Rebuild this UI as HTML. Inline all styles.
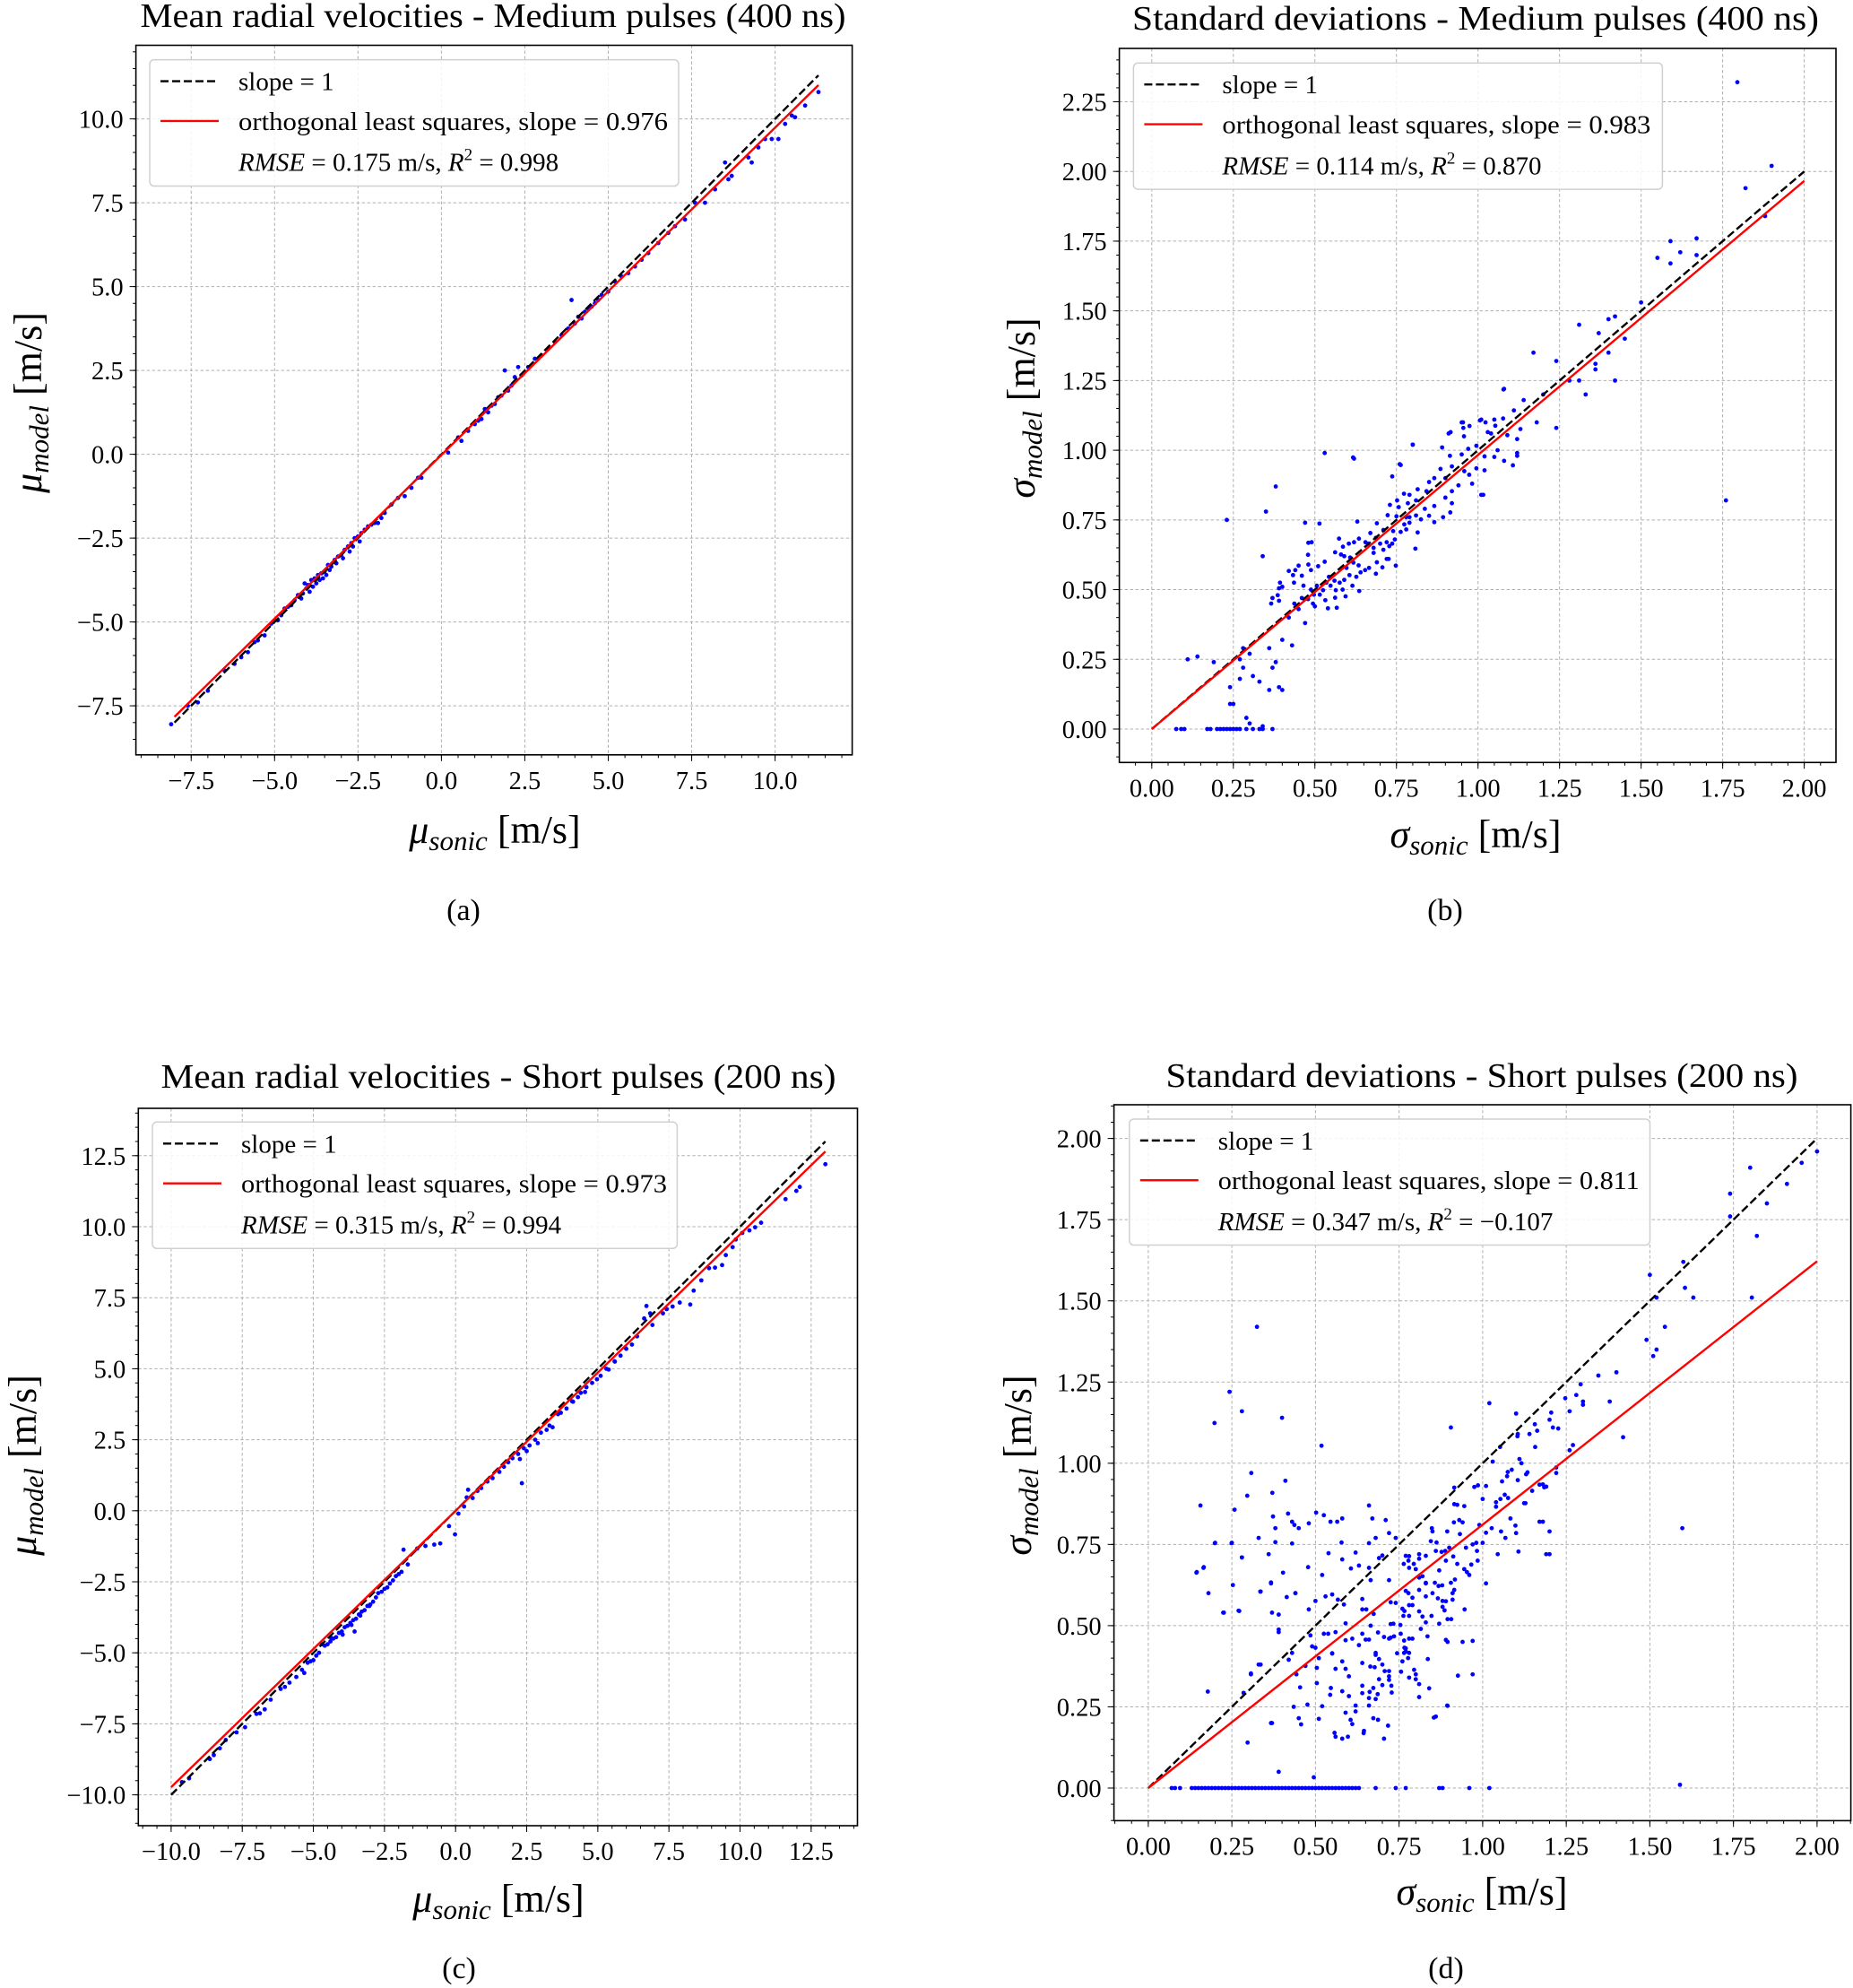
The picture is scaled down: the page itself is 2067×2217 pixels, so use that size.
<!DOCTYPE html>
<html><head><meta charset="utf-8"><title>Velocity comparison scatter plots</title>
<style>
html,body{margin:0;padding:0;background:#fff;}
svg{display:block;font-family:"Liberation Serif","DejaVu Serif",serif;}
</style></head>
<body>
<svg id="fig" xmlns="http://www.w3.org/2000/svg" width="2067" height="2217" viewBox="0 0 2067 2217">
<rect x="0" y="0" width="2067" height="2217" fill="#fff"/>
</svg>
<script>
// ---------- Panel (a) data: mean radial velocities, medium pulses ----------
const aSonic = [-8.1,-7.6,-7.3,-7.0,-6.5,-6.2,-6.0,-5.8,-5.6,-5.5,-5.3,-5.1,-5.0,-4.9,-4.8,-4.7,-4.6,-4.5,-4.4,-4.3,-4.2,-4.15,-4.1,-4.05,-4.0,-3.95,-3.9,-3.85,-3.8,-3.75,-3.7,-3.65,-3.6,-3.55,-3.5,-3.45,-3.4,-3.35,-3.3,-3.2,-3.15,-3.1,-3.0,-2.95,-2.9,-2.8,-2.75,-2.7,-2.65,-2.6,-2.5,-2.45,-2.4,-2.3,-2.2,-2.1,-2.0,-1.9,-1.8,-1.7,-1.5,-1.3,-1.1,-0.9,-0.7,-0.6,0.2,0.5,0.6,0.8,1.0,1.1,1.2,1.3,1.4,1.5,1.6,1.7,1.8,1.9,2.0,2.1,2.2,2.3,2.4,2.6,2.8,3.0,3.2,3.4,3.6,3.8,3.9,4.0,4.1,4.2,4.3,4.4,4.5,4.6,4.7,4.8,5.0,5.2,5.4,5.6,5.8,6.0,6.2,6.5,6.8,7.0,7.3,7.6,7.9,8.2,8.5,8.6,8.7,9.2,9.3,9.5,9.7,9.9,10.1,10.3,10.5,10.6,10.9,11.3];
const aModel = [-8.05,-7.5,-7.4,-7.05,-6.45,-6.25,-6.05,-5.9,-5.6,-5.55,-5.4,-5.05,-4.95,-4.95,-4.8,-4.6,-4.55,-4.5,-4.35,-4.2,-4.3,-4.15,-3.85,-4.0,-3.9,-4.1,-3.75,-3.95,-3.7,-3.85,-3.6,-3.75,-3.55,-3.7,-3.5,-3.6,-3.3,-3.45,-3.35,-3.15,-3.25,-3.05,-3.0,-3.1,-2.85,-2.75,-2.9,-2.65,-2.75,-2.5,-2.45,-2.6,-2.35,-2.25,-2.15,-2.1,-2.05,-2.05,-1.9,-1.75,-1.5,-1.3,-1.25,-1.0,-0.7,-0.7,0.05,0.5,0.4,0.7,0.9,1.0,1.05,1.35,1.25,1.45,1.5,1.7,1.75,2.5,1.9,2.05,2.3,2.6,2.35,2.6,2.85,2.95,3.15,3.35,3.55,3.75,4.6,3.9,4.1,4.05,4.25,4.35,4.4,4.5,4.6,4.75,4.85,5.15,5.3,5.4,5.6,5.8,6.0,6.3,6.6,6.8,7.0,7.5,7.5,7.9,8.7,8.2,8.3,8.85,8.7,9.15,9.4,9.4,9.4,9.85,10.1,10.05,10.4,10.8];
const aFitSlope = 0.976, aFitIntercept = -0.02, aRange = [-8.0, 11.3];
const aTicks = [-7.5,-5.0,-2.5,0.0,2.5,5.0,7.5,10.0];
const aTickLabels = ["\u22127.5","\u22125.0","\u22122.5","0.0","2.5","5.0","7.5","10.0"];

// ---------- Panel (b) data: standard deviations, medium pulses ----------
const bSonic = [1.795,1.82,1.90,1.88,1.76,1.59,1.55,1.59,1.62,1.67,1.67,1.50,1.45,1.42,1.40,1.42,1.40,1.36,1.36,1.37,1.33,1.31,1.31,1.28,1.17,1.24,1.24,1.20,1.18,1.12,1.08,1.12,1.05,1.01,1.01,0.95,0.91,0.80,0.76,0.53,0.62,0.38,0.35,0.23,0.34,0.47,0.11,0.14,0.19,0.28,
0.075,0.09,0.10,0.17,0.18,0.20,0.21,0.22,0.23,0.24,0.25,0.26,0.27,0.29,0.31,0.33,0.34,0.37,
0.24,0.25,0.24,0.27,0.29,0.30,0.31,0.28,0.33,0.34,0.36,0.37,0.39,0.40,0.27,0.30,0.36,0.38,0.40,0.42,0.43,0.39,0.40,0.44,0.46,0.48,0.49,0.45,0.47,
1.078,1.14,1.11,0.954,0.974,1.006,1.023,0.955,1.077,1.053,1.13,0.916,0.957,1.03,1.04,1.09,0.80,0.89,0.97,0.995,0.617,0.763,0.914,0.95,1.02,1.05,1.06,1.12,1.08,1.107,0.995,1.02,0.92,0.885,0.958,0.973,0.9,0.866,0.85,0.737,0.982,0.94,0.92,0.9,0.842,0.815,0.79,0.773,0.752,0.73,0.757,0.785,0.81,0.837,0.866,0.85,0.866,0.893,0.915,0.92,1.016,0.723,0.75,0.78,0.79,0.81,0.825,0.79,0.774,0.78,0.763,0.74,0.815,0.514,0.63,0.69,0.67,0.71,0.687,0.745,0.737,0.808,0.574,0.635,0.62,0.604,0.586,0.655,0.663,0.68,0.70,0.72,0.728,0.71,0.68,0.72,0.726,0.69,0.687,0.707,0.748,0.666,0.654,0.634,0.618,0.608,0.59,0.58,0.562,0.597,0.64,0.627,0.606,0.59,0.576,0.56,0.543,0.535,0.548,0.564,0.585,0.594,0.615,0.636,0.562,0.532,0.515,0.525,0.506,0.488,0.497,0.479,0.494,0.5,0.465,0.51,0.53,0.488,0.479,0.48,0.45,0.433,0.42,0.436,0.393,0.39,0.386,0.37,0.366,0.437,0.46,0.54,0.567];
const bModel = [2.32,1.94,2.02,1.84,0.82,1.75,1.69,1.67,1.71,1.76,1.70,1.53,1.40,1.48,1.47,1.25,1.35,1.31,1.29,1.42,1.20,1.45,1.25,1.25,1.35,1.32,1.08,1.20,1.10,1.04,1.22,0.99,1.11,1.11,0.84,1.10,1.06,1.02,0.95,0.99,0.97,0.87,0.78,0.75,0.62,0.74,0.25,0.26,0.24,0.29,
0,0,0,0,0,0,0,0,0,0,0,0,0,0,0,0,0,0,
0.09,0.09,0.15,0.18,0.04,0.02,0.19,0.22,0.17,0.01,0.14,0.22,0.15,0.14,0.25,0.27,0.29,0.24,0.32,0.40,0.30,0.46,0.51,0.57,0.55,0.59,0.67,0.43,0.38,
1.218,1.18,1.143,1.10,1.087,1.107,1.10,1.08,1.114,1.088,1.076,1.065,1.05,1.065,1.06,1.054,1.02,1.01,1.005,1.016,0.974,0.947,0.98,0.985,0.978,0.976,1.0,0.98,0.962,0.946,0.935,0.928,0.942,0.933,0.925,0.912,0.90,0.90,0.886,0.906,0.88,0.874,0.853,0.83,0.853,0.86,0.84,0.844,0.82,0.804,0.796,0.81,0.82,0.79,0.80,0.765,0.742,0.76,0.777,0.81,0.84,0.767,0.763,0.76,0.76,0.766,0.752,0.74,0.734,0.716,0.707,0.71,0.705,0.737,0.744,0.738,0.703,0.714,0.686,0.68,0.665,0.647,0.683,0.683,0.67,0.665,0.654,0.67,0.665,0.65,0.665,0.67,0.656,0.643,0.632,0.61,0.61,0.598,0.557,0.58,0.586,0.578,0.57,0.587,0.597,0.615,0.62,0.626,0.634,0.578,0.562,0.546,0.552,0.535,0.525,0.532,0.546,0.525,0.514,0.498,0.50,0.476,0.514,0.495,0.471,0.462,0.482,0.498,0.514,0.50,0.482,0.466,0.45,0.44,0.514,0.584,0.60,0.57,0.625,0.668,0.586,0.552,0.567,0.525,0.525,0.505,0.48,0.47,0.45,0.45,0.47,0.433,0.435];
const bFitSlope = 0.983, bFitIntercept = 0.0, bRange = [0.0, 2.0];
const bXTicks = [0,0.25,0.5,0.75,1.0,1.25,1.5,1.75,2.0];
const bXTickLabels = ["0.00","0.25","0.50","0.75","1.00","1.25","1.50","1.75","2.00"];
const bYTicks = [0,0.25,0.5,0.75,1.0,1.25,1.5,1.75,2.0,2.25];
const bYTickLabels = ["0.00","0.25","0.50","0.75","1.00","1.25","1.50","1.75","2.00","2.25"];

// ---------- Panel (c) data: mean radial velocities, short pulses ----------
const cSonic = [13.0,12.1,11.98,11.6,10.74,10.53,10.33,10.08,9.85,9.74,9.5,9.37,9.12,8.91,8.64,8.37,8.25,7.88,7.63,7.42,7.29,6.71,6.84,6.63,6.92,6.38,5.96,5.80,5.59,5.38,4.97,4.55,4.13,3.41,2.89,2.33,2.26,1.85,1.54,1.12,0.77,0.39,0.44,-0.02,-0.23,-0.54,-0.75,-1.06,-1.35,-1.83,-1.68,-2.0,-2.31,-2.72,-3.03,-3.35,-3.66,-3.55,-3.97,-4.38,-4.70,-5.0,-5.32,-5.84,-6.15,-6.71,-6.88,-7.40,-8.08,-8.29,-8.64,-9.37,-9.62,
6.2,6.0,5.6,5.3,5.1,4.8,4.6,4.4,4.3,4.1,3.9,3.7,3.6,3.3,3.2,3.0,2.8,2.6,2.5,2.4,2.2,2.0,1.7,1.3,0.9,0.6,0.3,0.1,
-1.9,-2.1,-2.2,-2.4,-2.5,-2.6,-2.8,-2.9,-3.0,-3.1,-3.2,-3.3,-3.4,-3.5,-3.6,-3.7,-3.8,-3.9,-4.0,-4.1,-4.2,-4.3,-4.4,-4.5,-4.6,-4.8,-4.9,-5.1,-5.2,-5.4,-5.6,-6.0,-6.5,-7.0,-7.7,-8.5];
const cModel = [12.2,11.4,11.26,10.97,10.14,9.98,9.87,9.78,9.55,9.28,9.0,8.65,8.56,8.54,8.11,7.75,7.26,7.33,7.19,7.10,6.95,7.21,6.95,6.77,6.54,6.14,5.75,5.46,5.26,4.97,4.63,4.18,3.84,2.94,2.38,0.97,1.82,1.71,1.37,1.03,0.70,0.47,0.74,-0.83,-0.54,-1.15,-1.19,-1.24,-1.33,-1.37,-1.89,-2.23,-2.56,-2.90,-3.35,-3.69,-4.02,-4.25,-4.36,-4.47,-4.70,-5.26,-5.71,-6.05,-6.27,-6.99,-7.13,-7.62,-8.07,-8.36,-8.74,-9.42,-9.55,
5.85,5.7,5.25,5.0,4.75,4.5,4.35,4.15,4.0,3.85,3.6,3.45,3.4,3.0,2.85,2.75,2.5,2.3,2.1,2.2,2.0,1.85,1.55,1.15,0.8,0.45,0.15,-0.1,
-2.15,-2.3,-2.45,-2.7,-2.75,-2.85,-3.05,-3.2,-3.3,-3.35,-3.5,-3.55,-3.65,-3.8,-3.85,-3.95,-4.05,-4.1,-4.25,-4.3,-4.45,-4.5,-4.6,-4.7,-4.75,-5.0,-5.1,-5.3,-5.35,-5.6,-5.85,-6.2,-6.65,-7.15,-7.8,-8.6];
const cFitSlope = 0.973, cFitIntercept = 0.0, cRange = [-10.0, 13.0];
const cTicks = [-10,-7.5,-5,-2.5,0,2.5,5,7.5,10,12.5];
const cTickLabels = ["\u221210.0","\u22127.5","\u22125.0","\u22122.5","0.0","2.5","5.0","7.5","10.0","12.5"];

// ---------- Panel (d) data: standard deviations, short pulses ----------
const dSonic = [
0.243,0.28,0.198,0.40,0.518,0.308,0.41,0.156,0.296,0.371,
0.258,0.418,0.43,0.437,0.45,0.38,0.373,0.48,0.502,0.525,
0.545,0.565,0.58,0.66,0.67,0.71,0.33,0.38,0.43,0.199,
0.249,0.578,0.66,0.36,0.28,0.539,0.62,0.58,0.144,0.165,
0.403,0.478,0.606,0.63,0.66,0.69,0.70,0.68,0.72,0.74,
0.253,0.367,0.18,0.335,0.414,0.44,0.52,0.665,0.72,0.224,
0.27,0.39,0.39,0.48,0.50,0.53,0.55,0.567,0.585,0.59,
0.64,0.64,0.652,0.674,0.665,0.538,0.525,0.56,0.59,0.61,
0.63,0.64,0.65,0.66,0.687,0.705,0.72,0.725,0.735,0.725,
0.733,0.74,0.725,0.485,0.49,0.5,0.51,0.55,0.55,0.504,
0.47,0.443,0.43,0.42,0.33,0.307,0.285,0.178,0.37,0.435,
0.45,0.457,0.476,0.454,0.504,0.51,0.52,0.546,0.544,0.557,
0.56,0.58,0.59,0.6,0.58,0.6,0.62,0.62,0.59,0.605,
0.61,0.64,0.64,0.64,0.662,0.66,0.66,0.673,0.68,0.686,
0.69,0.68,0.68,0.664,0.677,0.70,0.69,0.70,0.707,0.72,
0.72,0.72,0.727,0.728,0.717,0.673,0.687,0.645,0.644,0.56,
0.58,0.597,0.705,0.744,0.755,0.763,0.765,0.76,0.756,0.765,
0.77,0.777,0.78,0.78,0.79,0.795,0.8,0.8,0.81,0.81,
0.766,0.77,0.78,0.766,0.78,0.78,0.79,0.79,0.778,0.77,
0.76,0.754,0.81,0.82,0.815,0.83,0.835,0.836,0.84,0.854,
0.895,0.926,0.895,0.847,0.87,0.895,0.906,0.946,0.97,0.81,
0.83,0.83,0.85,0.866,0.88,0.89,0.88,0.886,0.91,0.91,
0.915,0.917,0.905,0.879,0.868,0.857,0.83,0.82,0.81,0.8,
0.78,0.778,0.764,0.77,0.78,0.794,0.81,0.81,0.83,0.845,
0.848,0.85,0.86,0.862,0.87,0.877,0.888,0.89,0.894,0.9,
0.912,0.915,0.915,0.924,0.914,0.924,0.93,0.932,0.945,0.94,
0.945,0.953,0.96,0.95,0.97,0.966,0.975,0.981,0.985,0.99,
0.983,0.986,1.0,1.0,1.01,1.01,1.01,1.02,1.027,1.03,
1.04,1.04,1.045,1.052,1.053,1.055,1.058,1.066,1.068,1.073,
1.075,1.076,1.083,1.087,1.098,1.10,1.10,1.105,1.104,1.105,
1.107,1.11,1.116,1.124,1.128,1.13,1.134,1.14,1.148,1.156,
1.157,1.163,1.17,1.18,1.184,1.19,1.20,1.20];
const dModel = [
1.22,1.16,1.124,1.14,1.054,0.97,0.946,0.87,0.90,0.909,
0.857,0.845,0.82,0.81,0.80,0.80,0.836,0.815,0.848,0.84,
0.82,0.82,0.83,0.87,0.83,0.825,0.77,0.757,0.753,0.754,
0.754,0.756,0.754,0.72,0.71,0.723,0.725,0.704,0.663,0.678,
0.663,0.68,0.676,0.685,0.678,0.708,0.716,0.77,0.785,0.77,
0.625,0.63,0.60,0.605,0.588,0.60,0.656,0.64,0.64,0.54,
0.546,0.534,0.488,0.55,0.576,0.59,0.596,0.58,0.565,0.507,
0.582,0.55,0.55,0.536,0.50,0.475,0.475,0.48,0.455,0.46,
0.44,0.475,0.457,0.457,0.479,0.465,0.46,0.463,0.467,0.505,
0.506,0.57,0.572,0.47,0.436,0.432,0.40,0.415,0.414,0.37,
0.376,0.35,0.416,0.395,0.38,0.353,0.293,0.297,0.20,0.25,
0.215,0.196,0.257,0.31,0.323,0.213,0.252,0.308,0.287,0.17,
0.367,0.39,0.367,0.344,0.298,0.283,0.254,0.236,0.232,0.21,
0.197,0.315,0.292,0.385,0.296,0.277,0.254,0.308,0.274,0.289,
0.397,0.41,0.416,0.374,0.372,0.317,0.335,0.38,0.36,0.36,
0.344,0.333,0.315,0.294,0.192,0.215,0.21,0.176,0.169,0.158,
0.152,0.158,0.152,0.415,0.475,0.53,0.454,0.39,0.358,0.416,
0.43,0.40,0.46,0.34,0.46,0.364,0.35,0.335,0.32,0.28,
0.432,0.42,0.416,0.545,0.53,0.563,0.563,0.586,0.6,0.607,
0.552,0.502,0.544,0.528,0.49,0.51,0.467,0.397,0.307,0.217,
0.253,0.346,0.45,0.53,0.506,0.52,0.52,0.55,0.453,0.61,
0.59,0.63,0.60,0.584,0.576,0.575,0.558,0.547,0.58,0.60,
0.61,0.642,0.632,0.624,0.622,0.632,0.632,0.652,0.648,0.674,
0.678,0.70,0.69,0.715,0.714,0.69,0.72,0.706,0.715,0.76,
0.80,0.79,0.73,0.756,0.67,0.727,0.73,0.70,0.79,0.74,
0.713,0.925,0.874,0.872,0.818,0.69,0.825,0.782,0.868,0.818,
0.674,0.665,0.656,0.74,0.75,0.688,0.927,0.755,0.70,0.81,
0.73,0.932,0.89,0.755,0.93,0.786,0.63,1.185,0.80,1.005,
0.88,0.866,0.72,1.05,0.89,0.79,0.944,0.903,0.77,0.96,
0.973,0.893,0.83,0.98,0.808,1.153,0.785,0.948,1.083,1.09,
0.728,1.013,1.0,0.877,0.877,0.966,0.972,1.09,0.915,1.12,
1.05,1.10,0.82,0.935,0.926,0.72,1.134,0.79];
const dOutSonic = [0.325,0.145,0.166,0.20,0.25,0.28,0.226,0.272,0.336,0.367,0.37,0.44,0.39,0.307,0.336,0.297,0.367,0.39,0.495,1.59,1.597,1.49,1.51,1.52,1.50,1.52,1.545,1.60,1.605,1.63,1.74,1.74,1.80,1.805,1.82,1.85,1.91,1.954,2.0,1.346,1.40,1.38,1.42,1.293,1.30,1.30,1.28,1.26,1.247,1.205,1.226,1.21,1.27,1.26,1.22,1.22,1.17,1.19,1.18,1.20,0.905,0.97,0.894,0.86,0.94,0.89];
const dOutModel = [1.42,0.665,0.68,0.755,0.755,0.71,0.54,0.545,0.605,0.633,0.54,0.60,0.48,0.35,0.38,0.14,0.20,0.05,0.033,0.01,0.80,1.38,1.33,1.35,1.58,1.51,1.42,1.62,1.54,1.51,1.83,1.76,1.91,1.51,1.70,1.80,1.86,1.925,1.96,1.27,1.28,1.19,1.08,1.243,1.19,1.18,1.21,1.16,1.20,1.156,1.107,1.11,1.056,1.04,0.987,0.97,0.934,0.928,0.82,0.72,1.11,0.35,0.254,0.22,0.45,0.456];
const dZeroSonic = [0.07,0.08,0.095,0.13,0.14,0.15,0.16,0.17,0.18,0.19,0.2,0.21,0.22,0.23,0.24,0.25,0.26,0.27,0.28,0.29,0.3,0.31,0.32,0.33,0.34,0.35,0.36,0.37,0.38,0.39,0.4,0.41,0.42,0.43,0.44,0.45,0.46,0.47,0.48,0.49,0.5,0.51,0.52,0.53,0.54,0.55,0.56,0.57,0.58,0.59,0.6,0.61,0.62,0.63,0.68,0.74,0.77,0.87,0.88,0.96,1.02];
const dZeroModel = [0,0,0,0,0,0,0,0,0,0,0,0,0,0,0,0,0,0,0,0,0,0,0,0,0,0,0,0,0,0,0,0,0,0,0,0,0,0,0,0,0,0,0,0,0,0,0,0,0,0,0,0,0,0,0,0,0,0,0,0,0];
const dFitSlope = 0.811, dFitIntercept = 0.0, dRange = [0.0, 2.0];
const dTicks = [0,0.25,0.5,0.75,1.0,1.25,1.5,1.75,2.0];
const dTickLabels = ["0.00","0.25","0.50","0.75","1.00","1.25","1.50","1.75","2.00"];

const NS = "http://www.w3.org/2000/svg";
const svg = document.getElementById('fig');
function mk(tag, parent, attrs){
  const e = document.createElementNS(NS, tag);
  for (const k in attrs) e.setAttribute(k, attrs[k]);
  parent.appendChild(e);
  return e;
}

function drawPanel(p){
  const g = mk('g', svg, {});
  
  
  const X = v => p.x0 + p.kx * v;
  const Y = v => p.y0 - p.ky * v;
  const [L,T,R,B] = p.box;
  const cp = mk('clipPath', g, {id: 'clip-' + p.id});
  mk('rect', cp, {x: L, y: T, width: R - L, height: B - T});
  const grid = mk('g', g, {stroke: '#b0b0b0', 'stroke-width': 1, 'stroke-dasharray': '3.5,2.5'});
  
  
  p.xt.forEach(v => mk('line', grid, {x1: X(v), x2: X(v), y1: T, y2: B}));
  p.yt.forEach(v => mk('line', grid, {x1: L, x2: R, y1: Y(v), y2: Y(v)}));
  const tk = mk('g', g, {stroke: '#000', 'stroke-width': 1});
  
  
  const xmin = (L - p.x0) / p.kx, xmax = (R - p.x0) / p.kx;
  const ymin = (p.y0 - B) / p.ky, ymax = (p.y0 - T) / p.ky;
  for (let v = Math.ceil(xmin / p.minor) * p.minor; v <= xmax; v += p.minor) mk('line', tk, {x1: X(v), x2: X(v), y1: B, y2: B + 3.5});
  for (let v = Math.ceil(ymin / p.minor) * p.minor; v <= ymax; v += p.minor) mk('line', tk, {x1: L, x2: L - 3.5, y1: Y(v), y2: Y(v)});
  p.xt.forEach(v => mk('line', tk, {x1: X(v), x2: X(v), y1: B, y2: B + 7}));
  p.yt.forEach(v => mk('line', tk, {x1: L, x2: L - 7, y1: Y(v), y2: Y(v)}));
  p.xt.forEach((v, i) => {
    const t = mk('text', g, {x: X(v), y: B + 38, 'font-size': 28.5, 'text-anchor': 'middle'});
    
    
    t.textContent = p.xl[i];
  });
  p.yt.forEach((v, i) => {
    const t = mk('text', g, {x: L - 14, y: Y(v) + 10, 'font-size': 28.5, 'text-anchor': 'end'});
    
    
    t.textContent = p.yl[i];
  });
  const pts = mk('g', g, {fill: '#0000ff', 'clip-path': 'url(#clip-' + p.id + ')'});
  
  
  for (let i = 0; i < p.xs.length; i++) {
    const c = mk('circle', pts, {cx: X(p.xs[i]), cy: Y(p.ys[i]), r: 2.4});
    
    
  }
  const ref = mk('line', g, {x1: X(p.rng[0]), y1: Y(p.rng[0]), x2: X(p.rng[1]), y2: Y(p.rng[1]), stroke: '#000', 'stroke-width': 2.4, 'stroke-dasharray': '9,4'});
  
  
  const fit = mk('line', g, {x1: X(p.rng[0]), y1: Y(p.slope * p.rng[0] + p.icpt), x2: X(p.rng[1]), y2: Y(p.slope * p.rng[1] + p.icpt), stroke: '#ff0000', 'stroke-width': 2.4});
  
  
  const fr = mk('rect', g, {x: L, y: T, width: R - L, height: B - T, fill: 'none', stroke: '#000', 'stroke-width': 1.6});
  
  
  const lg = mk('g', g, {});
  
  
  const [lx1, ly1, lx2, ly2] = p.leg;
  const lh = ly2 - ly1;
  mk('rect', lg, {x: lx1, y: ly1, width: lx2 - lx1, height: lh, rx: 5, fill: '#fff', 'fill-opacity': 0.85, stroke: '#d0d0d0', 'stroke-width': 1.5});
  const hx = lx1 + 12, hx2 = lx1 + 77, tx = lx1 + 99;
  const r1 = ly1 + lh * 0.17, r2 = ly1 + lh * 0.485, r3 = ly1 + lh * 0.81;
  mk('line', lg, {x1: hx, x2: hx2, y1: r1, y2: r1, stroke: '#000', 'stroke-width': 2.4, 'stroke-dasharray': '9,4'});
  mk('line', lg, {x1: hx, x2: hx2, y1: r2, y2: r2, stroke: '#ff0000', 'stroke-width': 2.4});
  let t = mk('text', lg, {x: tx, y: r1 + 10, 'font-size': 29});
  
  
  t.textContent = 'slope = 1';
  t = mk('text', lg, {x: tx, y: r2 + 10, 'font-size': 29, textLength: p.legW, lengthAdjust: 'spacingAndGlyphs'});
  
  
  t.textContent = 'orthogonal least squares, slope = ' + p.slope.toFixed(3);
  t = mk('text', lg, {x: tx, y: r3 + 10, 'font-size': 29});
  
  
  t.innerHTML = '<tspan font-style="italic">RMSE</tspan> = ' + p.rmse + ' m/s, <tspan font-style="italic">R</tspan><tspan font-size="19" dy="-12">2</tspan><tspan dy="12"> = ' + p.r2 + '</tspan>';
  t = mk('text', g, {x: p.title[1], y: p.title[2], 'font-size': 38, 'text-anchor': 'middle', textLength: p.title[3], lengthAdjust: 'spacingAndGlyphs'});
  
  
  t.textContent = p.title[0];
  const sym = p.sym;
  t = mk('text', g, {x: p.xlab[0], y: p.xlab[1], 'font-size': 44, 'text-anchor': 'middle'});
  
  
  t.innerHTML = '<tspan font-style="italic">' + sym + '</tspan><tspan font-style="italic" font-size="31" dy="8">sonic</tspan><tspan dy="-8"> [m/s]</tspan>';
  t = mk('text', g, {x: 0, y: 0, 'font-size': 44, 'text-anchor': 'middle', transform: 'translate(' + p.ylab[0] + ',' + p.ylab[1] + ') rotate(-90)'});
  
  
  t.innerHTML = '<tspan font-style="italic">' + sym + '</tspan><tspan font-style="italic" font-size="31" dy="8">model</tspan><tspan dy="-8"> [m/s]</tspan>';
  t = mk('text', g, {x: p.cap[0], y: p.cap[1], 'font-size': 34, 'text-anchor': 'middle'});
  
  
  t.textContent = p.cap[2];
}

drawPanel({id: 'a', box: [151.6, 50.5, 950.6, 841.8], x0: 492.4, kx: 37.22, y0: 506.6, ky: 37.40, minor: 0.5,
  xt: aTicks, xl: aTickLabels, yt: aTicks, yl: aTickLabels, xs: aSonic, ys: aModel, rng: aRange, slope: aFitSlope, icpt: aFitIntercept,
  leg: [167, 66.6, 757, 207.5], legW: 479, rmse: '0.175', r2: '0.998',
  title: ['Mean radial velocities - Medium pulses (400 ns)', 550, 30, 787], sym: '\u03bc', xlab: [552, 940], ylab: [46, 449], cap: [517, 1026, '(a)']});
drawPanel({id: 'b', box: [1248.6, 54, 2048, 850.3], x0: 1284.8, kx: 363.9, y0: 813, ky: 310.9, minor: 0.05,
  xt: bXTicks, xl: bXTickLabels, yt: bYTicks, yl: bYTickLabels, xs: bSonic, ys: bModel, rng: bRange, slope: bFitSlope, icpt: bFitIntercept,
  leg: [1264.4, 70.2, 1854.4, 211.1], legW: 478, rmse: '0.114', r2: '0.870',
  title: ['Standard deviations - Medium pulses (400 ns)', 1646, 33, 766], sym: '\u03c3', xlab: [1646, 945], ylab: [1154, 455], cap: [1612, 1026, '(b)']});
drawPanel({id: 'c', box: [154.3, 1236, 956.5, 2036], x0: 508.2, kx: 31.73, y0: 1684.8, ky: 31.68, minor: 0.5,
  xt: cTicks, xl: cTickLabels, yt: cTicks, yl: cTickLabels, xs: cSonic, ys: cModel, rng: cRange, slope: cFitSlope, icpt: cFitIntercept,
  leg: [170, 1251.3, 755.4, 1392.3], legW: 475, rmse: '0.315', r2: '0.994',
  title: ['Mean radial velocities - Short pulses (200 ns)', 556, 1213, 753], sym: '\u03bc', xlab: [556, 2132], ylab: [40, 1634], cap: [512, 2206, '(c)']});
drawPanel({id: 'd', box: [1242.6, 1232, 2064.6, 2030.4], x0: 1280.9, kx: 373, y0: 1994, ky: 362.2, minor: 0.05,
  xt: dTicks, xl: dTickLabels, yt: dTicks, yl: dTickLabels,
  xs: dSonic.concat(dOutSonic, dZeroSonic), ys: dModel.concat(dOutModel, dZeroModel),
  rng: dRange, slope: dFitSlope, icpt: dFitIntercept,
  leg: [1259.8, 1248, 1840.5, 1388.5], legW: 470, rmse: '0.347', r2: '\u22120.107',
  title: ['Standard deviations - Short pulses (200 ns)', 1653, 1212, 705], sym: '\u03c3', xlab: [1653, 2124], ylab: [1150, 1634], cap: [1613, 2206, '(d)']});
</script>
</body></html>
